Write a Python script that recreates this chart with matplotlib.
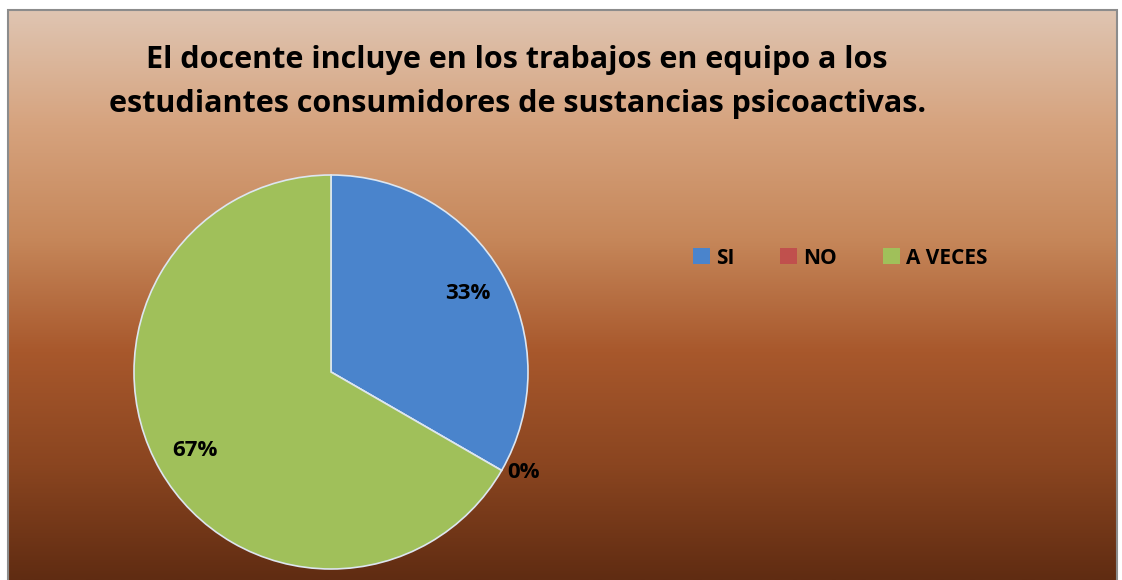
import numpy as np
import matplotlib
matplotlib.use("Agg")
import matplotlib.pyplot as plt
from matplotlib.colors import LinearSegmentedColormap
from matplotlib.patches import Rectangle

title = "El docente incluye en los trabajos en equipo a los\nestudiantes consumidores de sustancias psicoactivas."
categories = ["SI", "NO", "A VECES"]
values = [1, 0, 2]
colors = ["#4A84CC", "#C0504D", "#A0C05A"]

W, H = 1122, 580
fig = plt.figure(figsize=(W / 100, H / 100), dpi=100)
fig.patch.set_facecolor("white")
ax = fig.add_axes([0, 0, 1, 1])

# background gradient of the chart area
bg = LinearSegmentedColormap.from_list("bg", ["#DFC5B2", "#D6A37E", "#C6875A", "#A8582C", "#8A4520", "#602C12"])
grad = np.linspace(0, 1, 256).reshape(-1, 1)
ax.imshow(grad, cmap=bg, extent=[9, W - 4, 0, H - 10], aspect="auto", zorder=0)
ax.add_patch(Rectangle((8.5, -5), W - 13, H - 4.5, fill=False, ec="#8C8C8C", lw=1.5, zorder=1))

cx, cy, r = 331, 208, 197
wedges, _ = ax.pie(values, colors=colors, startangle=90, counterclock=False,
                   center=(cx, cy), radius=r, frame=True,
                   wedgeprops=dict(edgecolor="#DDE6F0", linewidth=1.2))
for w in wedges:
    w.set_zorder(2)
ax.set_xlim(0, W)
ax.set_ylim(0, H)
ax.set_aspect("equal")
ax.axis("off")

total = sum(values)
for w, v in zip(wedges, values):
    ang = np.deg2rad((w.theta1 + w.theta2) / 2)
    d = 0.8 if v > 0 else 1.1
    if v == 0:
        ang += np.deg2rad(2.5)
    ax.text(cx + d * r * np.cos(ang), cy + d * r * np.sin(ang), f"{v / total:.0%}",
            ha="center", va="center", fontsize=16, fontweight="bold",
            family="Open Sans", zorder=3)

fig.text(0.461, 0.858, title, ha="center", va="center", fontsize=22,
         fontweight="bold", family="Open Sans", linespacing=1.6)

handles = [Rectangle((0, 0), 1, 1, fc=c, ec="none") for c in colors]
leg = fig.legend(handles, categories, loc="center", bbox_to_anchor=(0.749, 0.555),
                 ncol=3, frameon=False, handlelength=0.8, handleheight=0.8,
                 handletextpad=0.3, columnspacing=2.2,
                 prop=dict(family="Open Sans", weight="bold", size=15))

fig.savefig("out.png", dpi=100)
